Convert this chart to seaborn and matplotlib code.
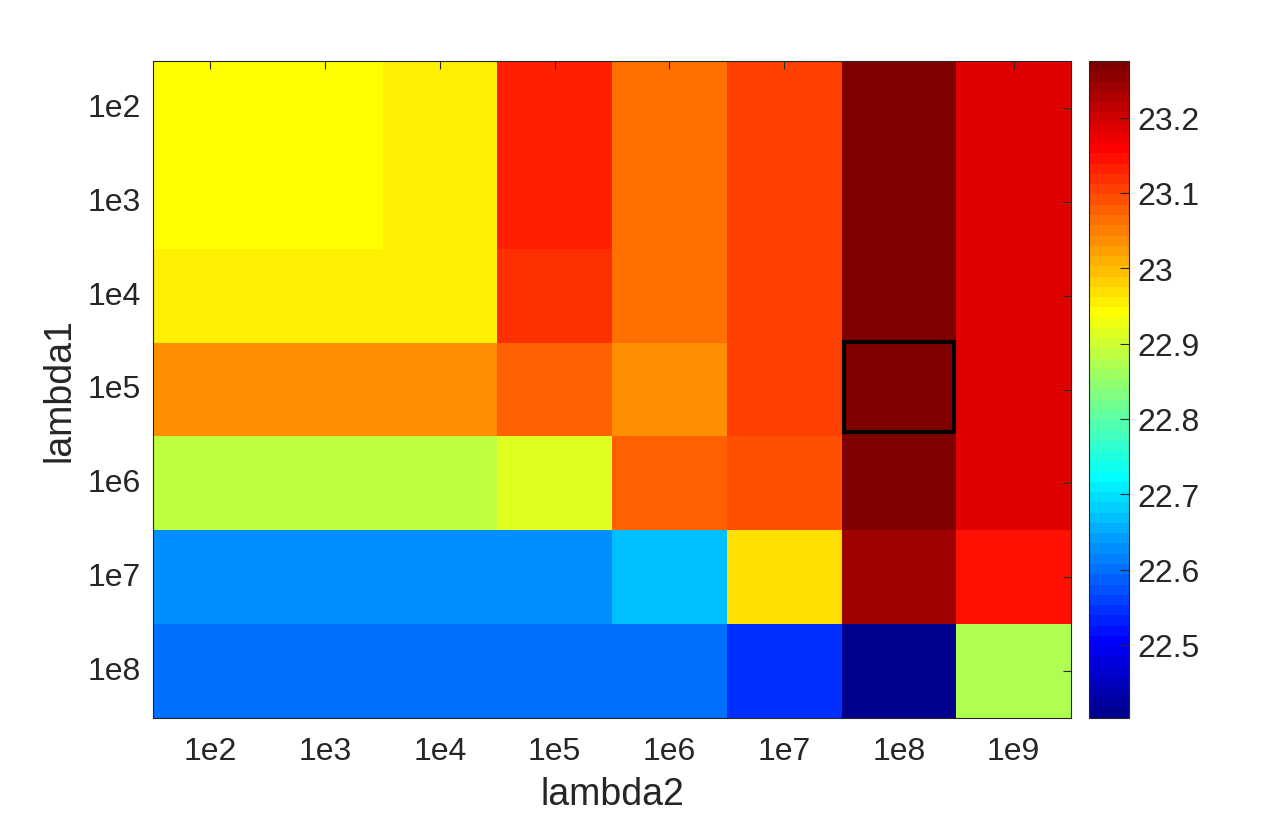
import numpy as np
import pandas as pd
import matplotlib
matplotlib.use('Agg')
import matplotlib.pyplot as plt
from matplotlib.colors import ListedColormap
from matplotlib.patches import Rectangle
import seaborn as sns

# grid search result (lambda1 rows x lambda2 columns)
lambda1_labels = ['1e2', '1e3', '1e4', '1e5', '1e6', '1e7', '1e8']
lambda2_labels = ['1e2', '1e3', '1e4', '1e5', '1e6', '1e7', '1e8', '1e9']

row_1e2 = [22.942, 22.942, 22.956, 23.132, 23.070, 23.104, 23.265, 23.186]
row_1e3 = [22.941, 22.941, 22.955, 23.131, 23.070, 23.104, 23.265, 23.186]
row_1e4 = [22.955, 22.955, 22.955, 23.118, 23.070, 23.104, 23.265, 23.186]
row_1e5 = [23.037, 23.037, 23.037, 23.078, 23.037, 23.104, 23.275, 23.186]
row_1e6 = [22.887, 22.887, 22.887, 22.914, 23.078, 23.091, 23.265, 23.186]
row_1e7 = [22.628, 22.628, 22.628, 22.628, 22.669, 22.968, 23.241, 23.145]
row_1e8 = [22.601, 22.601, 22.601, 22.601, 22.601, 22.546, 22.403, 22.873]

best_row, best_col = '1e5', '1e8'
cbar_ticks = [22.5, 22.6, 22.7, 22.8, 22.9, 23.0, 23.1, 23.2]

df = pd.DataFrame([row_1e2, row_1e3, row_1e4, row_1e5, row_1e6, row_1e7, row_1e8],
                  index=lambda1_labels, columns=lambda2_labels)


def matlab_jet(n=64):
  # same construction as MATLAB's jet(n)
  m = int(np.ceil(n / 4))
  u = np.concatenate([np.arange(1, m + 1) / m, np.ones(m - 1), np.arange(m, 0, -1) / m])
  g = int(np.ceil(m / 2)) - (1 if n % 4 == 1 else 0) + np.arange(1, len(u) + 1)
  r = g + m
  b = g - m
  J = np.zeros((n, 3))
  rr = r[r <= n]
  gg = g[g <= n]
  bb = b[b >= 1]
  J[rr - 1, 0] = u[:len(rr)]
  J[gg - 1, 1] = u[:len(gg)]
  J[bb - 1, 2] = u[len(u) - len(bb):]
  return ListedColormap(J)


sns.set_style('white')
plt.rcParams['font.family'] = ['Liberation Sans', 'DejaVu Sans']
text_color = '#262626'

fig = plt.figure(figsize=(12.79, 8.28), dpi=100)
ax = fig.add_axes([153 / 1279, 1 - 719 / 828, 918 / 1279, 657 / 828])
cax = fig.add_axes([1089 / 1279, 1 - 719 / 828, 40 / 1279, 657 / 828])

sns.heatmap(df, cmap=matlab_jet(64), vmin=df.values.min(), vmax=df.values.max(),
            ax=ax, cbar_ax=cax, linewidths=0,
            cbar_kws={'ticks': cbar_ticks})

# highlight the best setting
ri = lambda1_labels.index(best_row)
ci = lambda2_labels.index(best_col)
ax.add_patch(Rectangle((ci + 0.018, ri - 0.01), 0.964, 0.965, fill=False,
                       edgecolor='black', linewidth=3, zorder=5))

# ticks inside, drawn on top of the mesh
ax.set_axisbelow(False)
cax.set_axisbelow(False)

for sp in ax.spines.values():
  sp.set_visible(True)
  sp.set_color(text_color)
  sp.set_linewidth(0.8)

ax.tick_params(axis='both', direction='in', length=6, width=0.8, color=text_color,
               top=True, right=True, labelsize=23, labelcolor=text_color)
ax.tick_params(axis='x', pad=13)
ax.tick_params(axis='y', pad=9)
ax.set_yticklabels(lambda1_labels, rotation=0)
ax.set_xticklabels(lambda2_labels, rotation=0)
ax.set_xlabel('lambda2', fontsize=27, color=text_color, labelpad=7)
ax.set_ylabel('lambda1', fontsize=27, color=text_color, labelpad=7)

cb = ax.collections[0].colorbar
cb.outline.set_visible(True)
cb.outline.set_linewidth(0.8)
cb.outline.set_edgecolor(text_color)
cb.set_ticks(cbar_ticks)
cb.set_ticklabels(['%g' % t for t in cbar_ticks])
cax.tick_params(direction='in', length=6.5, width=0.8, color=text_color,
                labelsize=23, labelcolor=text_color, pad=6)

plt.savefig('out.png', dpi=100)
